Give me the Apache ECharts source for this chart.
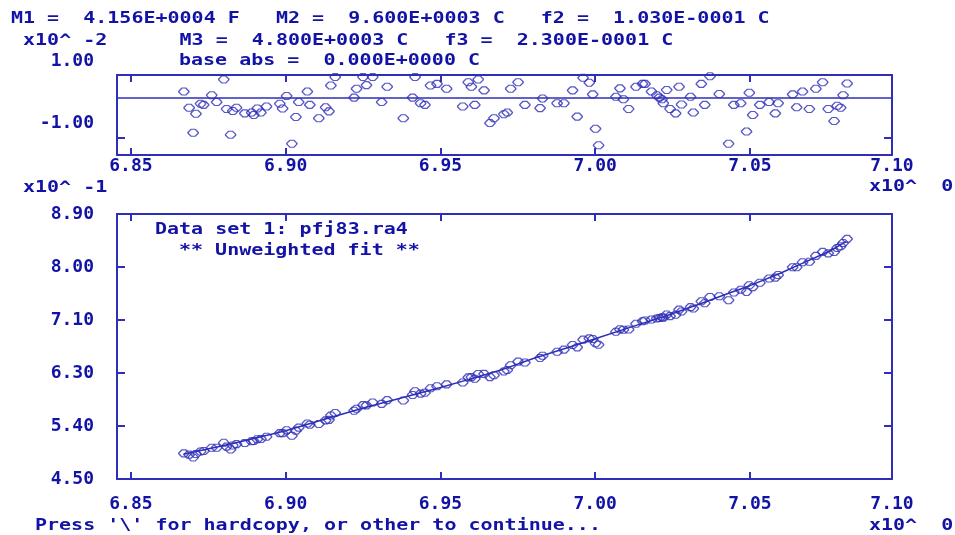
<!DOCTYPE html>
<html>
<head>
<meta charset="utf-8">
<title>pfj83.ra4 fit</title>
<script src="https://cdn.jsdelivr.net/npm/echarts@6/dist/echarts.min.js"></script>
<style>
  html, body { margin: 0; padding: 0; background: #ffffff; }
  #chart { width: 955px; height: 535px; }
</style>
</head>
<body>
<div id="chart"></div>
<script>
// Abscissa of every measured point (x10^0)
const xVals = [
  6.8671, 6.8688, 6.8701, 6.8710, 6.8725, 6.8735, 6.8761, 6.8777, 6.8800, 6.8809,
  6.8822, 6.8829, 6.8841, 6.8868, 6.8890, 6.8897, 6.8908, 6.8920, 6.8938, 6.8981,
  6.8990, 6.9003, 6.9020, 6.9033, 6.9042, 6.9070, 6.9078, 6.9107, 6.9129, 6.9140,
  6.9146, 6.9160, 6.9221, 6.9229, 6.9250, 6.9261, 6.9281, 6.9310, 6.9328, 6.9380,
  6.9410, 6.9418, 6.9436, 6.9450, 6.9468, 6.9489, 6.9520, 6.9572, 6.9590, 6.9600,
  6.9611, 6.9622, 6.9641, 6.9660, 6.9673, 6.9705, 6.9716, 6.9727, 6.9751, 6.9773,
  6.9822, 6.9830, 6.9877, 6.9899, 6.9927, 6.9942, 6.9961, 6.9981, 6.9992, 7.0001,
  7.0011, 7.0067, 7.0080, 7.0091, 7.0108, 7.0132, 7.0153, 7.0161, 7.0182, 7.0199,
  7.0207, 7.0216, 7.0220, 7.0231, 7.0242, 7.0260, 7.0271, 7.0279, 7.0308, 7.0317,
  7.0343, 7.0354, 7.0371, 7.0401, 7.0431, 7.0448, 7.0470, 7.0489, 7.0498, 7.0509,
  7.0532, 7.0562, 7.0582, 7.0591, 7.0638, 7.0651, 7.0670, 7.0692, 7.0713, 7.0735,
  7.0753, 7.0772, 7.0782, 7.0793, 7.0801, 7.0814
];

// Residuals of the fit (x10^-2)
const residVals = [
   0.15, -0.25, -0.87, -0.40, -0.15, -0.18,  0.06, -0.11,  0.45, -0.28,
  -0.92, -0.33, -0.25, -0.39, -0.37, -0.43, -0.27, -0.37, -0.22, -0.15,
  -0.27,  0.04, -1.14, -0.48, -0.11,  0.15, -0.18, -0.51, -0.24, -0.34,
   0.30,  0.51,  0.00,  0.22,  0.51,  0.31,  0.51, -0.11,  0.27, -0.51,
   0.00,  0.51, -0.14, -0.18,  0.30,  0.34,  0.22, -0.22,  0.38,  0.27,
  -0.18,  0.45,  0.18, -0.63, -0.51, -0.41, -0.37,  0.22,  0.38, -0.18,
  -0.26, -0.02, -0.14, -0.14,  0.18, -0.47,  0.49,  0.37,  0.08, -0.77,
  -1.18,  0.02,  0.23, -0.04, -0.28,  0.27,  0.34,  0.34,  0.15,  0.06,
   0.00, -0.04, -0.14,  0.19, -0.28, -0.39,  0.27, -0.17,  0.02, -0.37,
   0.34, -0.18,  0.53,  0.09, -1.14, -0.18, -0.14, -0.84,  0.12, -0.43,
  -0.18, -0.11, -0.39, -0.14,  0.08, -0.24,  0.15, -0.28,  0.22,  0.38,
  -0.28, -0.58, -0.20, -0.25,  0.06,  0.35
];

// Measured ordinates (x10^-1)
const yVals = [
  4.925, 4.905, 4.858, 4.915, 4.957, 4.965, 5.018, 5.019, 5.101, 5.038,
  4.989, 5.056, 5.079, 5.098, 5.127, 5.130, 5.159, 5.164, 5.201, 5.262,
  5.261, 5.309, 5.217, 5.303, 5.353, 5.422, 5.402, 5.413, 5.474, 5.481,
  5.554, 5.596, 5.634, 5.667, 5.726, 5.722, 5.770, 5.747, 5.810, 5.803,
  5.895, 5.957, 5.917, 5.933, 6.006, 6.039, 6.071, 6.102, 6.188, 6.192,
  6.164, 6.243, 6.245, 6.192, 6.223, 6.286, 6.310, 6.389, 6.449, 6.433,
  6.510, 6.547, 6.612, 6.648, 6.726, 6.686, 6.814, 6.835, 6.825, 6.755,
  6.730, 6.944, 6.986, 6.978, 6.982, 7.077, 7.118, 7.131, 7.147, 7.165,
  7.172, 7.183, 7.180, 7.231, 7.204, 7.226, 7.312, 7.282, 7.354, 7.331,
  7.450, 7.419, 7.522, 7.535, 7.469, 7.597, 7.641, 7.606, 7.718, 7.686,
  7.759, 7.829, 7.843, 7.887, 8.017, 8.015, 8.098, 8.106, 8.204, 8.271,
  8.246, 8.268, 8.336, 8.364, 8.419, 8.487
];

// Fitted curve
const fitX = [6.867, 6.883, 6.900, 6.915, 6.926, 6.937, 6.950, 6.959, 6.969, 6.980, 6.991,
              7.000, 7.012, 7.023, 7.034, 7.044, 7.050, 7.060, 7.066, 7.076, 7.081];
const fitY = [4.91, 5.09, 5.30, 5.53, 5.69, 5.84, 6.02, 6.15, 6.30, 6.50, 6.68,
              6.83, 7.03, 7.21, 7.41, 7.60, 7.71, 7.92, 8.06, 8.29, 8.44];

// Axis ranges and ticks
const X_MIN = 6.8455, X_MAX = 7.0959;
const xTickValues = [6.85, 6.90, 6.95, 7.00, 7.05];
const xLabelValues = [6.85, 6.90, 6.95, 7.00, 7.05, X_MAX];
const xTickLabels = ['6.85', '6.90', '6.95', '7.00', '7.05', '7.10'];

const RES_MIN = -1.42, RES_MAX = 0.56;
const resTickValues = [-1];
const resTickLabels = ['-1.00'];
const resTopLabel = '1.00';

const Y_MIN = 4.5, Y_MAX = 8.9;
const yTickValues = [4.50, 5.38, 6.26, 7.14, 8.02, 8.90];
const yTickLabels = ['4.50', '5.40', '6.30', '7.10', '8.00', '8.90'];

// Screen text
const headerRows = [
  'M1 =  4.156E+0004 F   M2 =  9.600E+0003 C   f2 =  1.030E-0001 C',
  ' x10^ -2      M3 =  4.800E+0003 C   f3 =  2.300E-0001 C'
];
const baseText = 'base abs =  0.000E+0000 C';
const dataSetText = 'Data set 1: pfj83.ra4';
const fitText = '** Unweighted fit **';
const promptText = "Press '\\' for hardcopy, or other to continue...";
const xExpText = 'x10^  0';
const yExpText = 'x10^ -1';

const TXT = '#1212a6';
const LN = '#2e2eb8';
const MONO = '"DejaVu Sans Mono", "Liberation Mono", monospace';
const LABEL = { color: TXT, fontFamily: MONO, fontWeight: 'bold', fontSize: 18, lineHeight: 18 };

function pick(values, labels) {
  return function (v) {
    for (let i = 0; i < values.length; i++) {
      if (Math.abs(values[i] - v) < 1e-9) return labels[i];
    }
    return '';
  };
}

function xAxisDef(grid, pos, showLabel, margin) {
  return {
    type: 'value', gridIndex: grid, position: pos, min: X_MIN, max: X_MAX,
    axisLine: { show: true, onZero: false, lineStyle: { color: LN, width: 2 } },
    axisTick: { show: true, inside: true, length: 7, customValues: xTickValues,
                lineStyle: { color: LN, width: 2 } },
    axisLabel: Object.assign({ show: showLabel, customValues: xLabelValues,
                               formatter: pick(xLabelValues, xTickLabels), margin: margin }, LABEL),
    splitLine: { show: false }
  };
}

function yAxisDef(grid, pos, min, max, ticks, showLabel, labelValues, labels, extra, labelExtra) {
  return Object.assign({
    type: 'value', gridIndex: grid, position: pos, min: min, max: max,
    axisLine: { show: true, onZero: false, lineStyle: { color: LN, width: 2 } },
    axisTick: { show: true, inside: true, length: 8, customValues: ticks,
                lineStyle: { color: LN, width: 2 } },
    axisLabel: Object.assign({ show: showLabel, customValues: labelValues,
                               formatter: pick(labelValues, labels), margin: 23 }, LABEL, labelExtra || {}),
    splitLine: { show: false }
  }, extra || {});
}

function text(x, y, str) {
  return {
    type: 'text', x: x, y: y, scaleY: 0.8, silent: true,
    style: { text: str, fill: TXT, font: 'bold 20px ' + MONO, align: 'left', verticalAlign: 'middle' }
  };
}

const marker = 'path://M3,0 L7,0 L10,3 L10,4 L7,7 L3,7 L0,4 L0,3 Z';
const markerStyle = { color: 'rgba(0,0,0,0)', borderColor: LN, borderWidth: 1.3 };

const residPts = xVals.map((x, i) => [x, residVals[i]]);
const mainPts = xVals.map((x, i) => [x, yVals[i]]);
const fitPts = fitX.map((x, i) => [x, fitY[i]]);

const chart = echarts.init(document.getElementById('chart'), null, { renderer: 'canvas' });
chart.setOption({
  backgroundColor: '#ffffff',
  animation: false,
  grid: [
    { left: 117, right: 63, top: 75, height: 80 },
    { left: 117, right: 63, top: 214, height: 265 }
  ],
  xAxis: [
    xAxisDef(0, 'bottom', true, 2),
    xAxisDef(0, 'top', false, 0),
    xAxisDef(1, 'bottom', true, 16),
    xAxisDef(1, 'top', false, 0)
  ],
  yAxis: [
    // residual scale: the "-1.00" text sits one text row above its tick
    yAxisDef(0, 'left', RES_MIN, RES_MAX, resTickValues, true, resTickValues, resTickLabels, {
      name: resTopLabel, nameLocation: 'end', nameGap: 14,
      nameTextStyle: { color: TXT, fontFamily: MONO, fontWeight: 'bold', fontSize: 18,
                       align: 'right', verticalAlign: 'middle', padding: [0, 23, 0, 0] }
    }, { verticalAlign: 'bottom', lineHeight: 30 }),
    yAxisDef(0, 'right', RES_MIN, RES_MAX, resTickValues, false, [], []),
    yAxisDef(1, 'left', Y_MIN, Y_MAX, yTickValues, true, yTickValues, yTickLabels),
    yAxisDef(1, 'right', Y_MIN, Y_MAX, yTickValues, false, [], [])
  ],
  series: [
    {
      type: 'scatter', xAxisIndex: 0, yAxisIndex: 0, data: residPts,
      symbol: marker, symbolSize: [10, 7], itemStyle: markerStyle, z: 3,
      markLine: {
        silent: true, symbol: 'none', label: { show: false },
        lineStyle: { color: LN, width: 1.6, type: 'solid' },
        data: [{ yAxis: 0 }]
      }
    },
    {
      type: 'line', xAxisIndex: 2, yAxisIndex: 2, data: fitPts,
      showSymbol: false, smooth: false, lineStyle: { color: LN, width: 1.5 }, z: 2
    },
    {
      type: 'scatter', xAxisIndex: 2, yAxisIndex: 2, data: mainPts,
      symbol: marker, symbolSize: [10, 7], itemStyle: markerStyle, z: 3
    }
  ],
  graphic: [
    text(11, 19, headerRows[0]),
    text(11, 41, headerRows[1]),
    text(179, 61, baseText),
    text(23, 188, yExpText),
    text(869, 187, xExpText),
    text(155, 230, dataSetText),
    text(179, 251, fitText),
    text(35, 526, promptText),
    text(869, 526, xExpText)
  ]
});
</script>
</body>
</html>
